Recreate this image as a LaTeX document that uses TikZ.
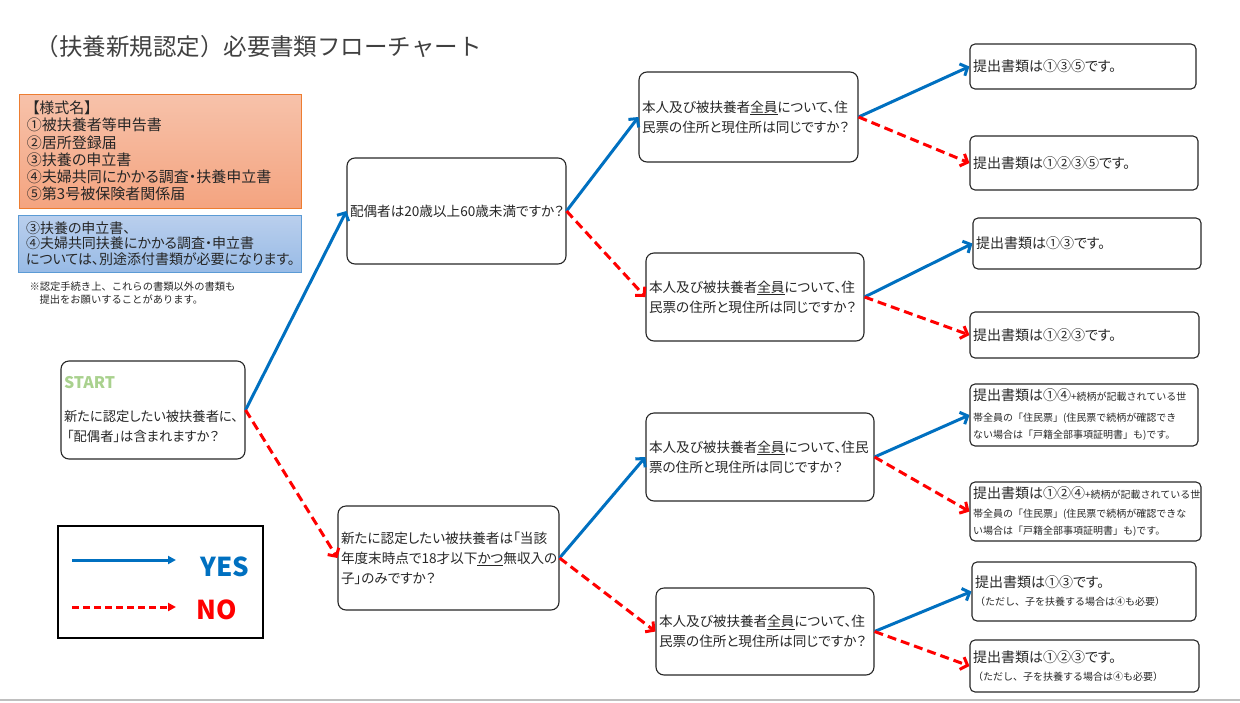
\documentclass[tikz,border=0pt]{standalone}
\usepackage{fontspec}
\setmainfont{Noto Sans CJK JP}[RawFeature=+palt]
\newfontfamily\jpfixed{Noto Sans CJK JP}
\usetikzlibrary{arrows.meta}
\definecolor{yesblue}{RGB}{0,112,192}
\definecolor{nored}{RGB}{255,0,0}
\definecolor{startgreen}{RGB}{169,209,142}
\definecolor{formline}{RGB}{237,125,49}
\definecolor{formtop}{RGB}{247,194,170}
\definecolor{formbot}{RGB}{244,164,128}
\definecolor{noteline}{RGB}{91,155,213}
\definecolor{notetop}{RGB}{186,207,237}
\definecolor{notebot}{RGB}{152,187,230}

\begin{document}
\begin{tikzpicture}[x = 1pt, y = -1pt, line width = 1pt,
    qbox/.style = {draw = black!85, rounded corners = 8pt, line width = 1.1pt, align = left, inner sep = 3pt,
                   text = black!85, font = \fontsize{13.6}{20}\selectfont},
    rbox/.style = {draw = black!85, rounded corners = 5pt, line width = 1.1pt, align = left, inner sep = 3pt,
                   text = black!85, font = \fontsize{14}{20}\selectfont},
    small/.style = {font = \jpfixed\fontsize{10}{17}\selectfont},
    yesarrow/.style = {draw = yesblue, line width = 3pt, -{Straight Barb[length = 6pt, width = 13pt]}},
    noarrow/.style = {draw = nored, line width = 3pt, dash pattern = on 9pt off 5pt,
                      -{Straight Barb[length = 6pt, width = 13pt]}}]
      \useasboundingbox (0, 0) rectangle (1240, 702);
      \node [anchor = west, inner sep = 0pt, text = black!75, font = \jpfixed\fontsize{23.5}{23.5}\selectfont] (title) at (35, 47){（扶養新規認定）必要書類フローチャート};
      \node [draw = formline, top color = formtop, bottom color = formbot, align = left, inner xsep = 8pt,
             text width = 266pt, minimum height = 114pt, text = black!85, font = \fontsize{15}{17.2}\selectfont] (forms) at (160, 151)
            {\hspace{5pt}【様式名】\\①被扶養者等申告書\\②居所登録届\\③扶養の申立書\\④夫婦共同にかかる調査・扶養申立書\\⑤第3号被保険者関係届};
      \node [draw = noteline, top color = notetop, bottom color = notebot, align = left, inner xsep = 8pt,
             text width = 267pt, minimum height = 57pt, text = black!85, font = \fontsize{14}{15.5}\selectfont] (extra) at (159.5, 243.5)
            {③扶養の申立書、\\④夫婦共同扶養にかかる調査・申立書\\については、別途添付書類が必要になります。};
      \node [anchor = west, inner sep = 0pt, align = left, text = black!85, font = \jpfixed\fontsize{10.3}{12.5}\selectfont] (remark) at (29, 293)
            {※認定手続き上、これらの書類以外の書類も\\\hspace{10pt}提出をお願いすることがあります。};
      \node [qbox, font = \fontsize{13.3}{20}\selectfont, text width = 178pt, minimum height = 98pt] (start) at (153, 410)
            {{\bfseries\fontsize{16}{16}\selectfont\color{startgreen}START}\\[13pt]新たに認定したい被扶養者に、\\\hspace{3pt}「配偶者」は含まれますか？};
      \node [qbox, text width = 213pt, minimum height = 106pt] (q1) at (456.5, 211){配偶者は20歳以上60歳未満ですか？};
      \node [qbox, text width = 215pt, minimum height = 104pt] (q2) at (448.5, 558)
            {新たに認定したい被扶養者は「当該\\年度末時点で18才以下\underline{かつ}無収入の\\子」のみですか？};
      \node [qbox, text width = 213pt, minimum height = 90pt] (q3) at (748.5, 117)
            {本人及び被扶養者\underline{全員}について、住\\民票の住所と現住所は同じですか？};
      \node [qbox, text width = 212pt, minimum height = 88pt] (q4) at (755, 297)
            {本人及び被扶養者\underline{全員}について、住\\民票の住所と現住所は同じですか？};
      \node [qbox, text width = 222pt, minimum height = 88pt] (q5) at (760, 457)
            {本人及び被扶養者\underline{全員}について、住民\\票の住所と現住所は同じですか？};
      \node [qbox, text width = 212pt, minimum height = 87pt] (q6) at (765, 631.5)
            {本人及び被扶養者\underline{全員}について、住\\民票の住所と現住所は同じですか？};
      \node [rbox, text width = 220pt, minimum height = 45pt] (r1) at (1083, 66.5){提出書類は①③⑤です。};
      \node [rbox, text width = 222pt, minimum height = 54pt] (r2) at (1084, 163){提出書類は①②③⑤です。};
      \node [rbox, text width = 222pt, minimum height = 51pt] (r3) at (1087, 243.5){提出書類は①③です。};
      \node [rbox, text width = 223pt, minimum height = 46pt] (r4) at (1084.5, 335){提出書類は①②③です。};
      \node [rbox, small, text width = 222pt, minimum height = 62pt] (r5) at (1084, 415)
            {{\normalfont\fontsize{14}{17}\selectfont 提出書類は①④}+続柄が記載されている世\\[4pt]帯全員の「住民票」(住民票で続柄が確認でき\\ない場合は「戸籍全部事項証明書」も)です。};
      \node [rbox, small, text width = 225pt, minimum height = 59pt] (r6) at (1085.5, 511.5)
            {{\normalfont\fontsize{14}{17}\selectfont 提出書類は①②④}+続柄が記載されている世\\[2pt]帯全員の「住民票」(住民票で続柄が確認できな\\い場合は「戸籍全部事項証明書」も)です。};
      \node [rbox, text width = 218pt, minimum height = 59pt] (r7) at (1084, 591.5)
            {提出書類は①③です。\\[-2pt]{\jpfixed\fontsize{10}{12}\selectfont（ただし、子を扶養する場合は④も必要）}};
      \node [rbox, text width = 223pt, minimum height = 52pt] (r8) at (1084.5, 666)
            {提出書類は①②③です。\\[-2pt]{\jpfixed\fontsize{10}{12}\selectfont（ただし、子を扶養する場合は④も必要）}};
      \draw [yesarrow] (start.east) -- (q1.west);
      \draw [noarrow] (start.east) -- (q2.west);
      \draw [yesarrow] (q1.east) -- (q3.west);
      \draw [noarrow] (q1.east) -- (q4.west);
      \draw [yesarrow] (q2.east) -- (q5.west);
      \draw [noarrow] (q2.east) -- (q6.west);
      \draw [yesarrow] (q3.east) -- (r1.west);
      \draw [noarrow] (q3.east) -- (r2.west);
      \draw [yesarrow] (q4.east) -- (r3.west);
      \draw [noarrow] (q4.east) -- (r4.west);
      \draw [yesarrow] (q5.east) -- (r5.west);
      \draw [noarrow] (q5.east) -- (r6.west);
      \draw [yesarrow] (q6.east) -- (r7.west);
      \draw [noarrow] (q6.east) -- (r8.west);
      \node [draw, line width = 1.2pt, minimum width = 205pt, minimum height = 112pt] (legend) at (160.5, 582){};
      \coordinate (yesfrom) at (72, 560);
      \coordinate (yesto) at (176, 560);
      \coordinate (nofrom) at (72, 607);
      \coordinate (noto) at (176, 607);
      \draw [draw = yesblue, line width = 3pt, -{Triangle[length = 8pt, width = 8pt]}] (yesfrom) -- (yesto);
      \draw [draw = nored, line width = 3pt, dash pattern = on 7pt off 4pt, -{Triangle[length = 8pt, width = 8pt]}] (nofrom) -- (noto);
      \node [text = yesblue, font = \bfseries\fontsize{26}{26}\selectfont] (yeslabel) at (225, 567){YES};
      \node [text = nored, font = \bfseries\fontsize{26}{26}\selectfont] (nolabel) at (217, 610){NO};
      \draw [black!25, line width = 1.5pt] (0, 700) -- (1240, 700);
    \end{tikzpicture}
\end{document}
